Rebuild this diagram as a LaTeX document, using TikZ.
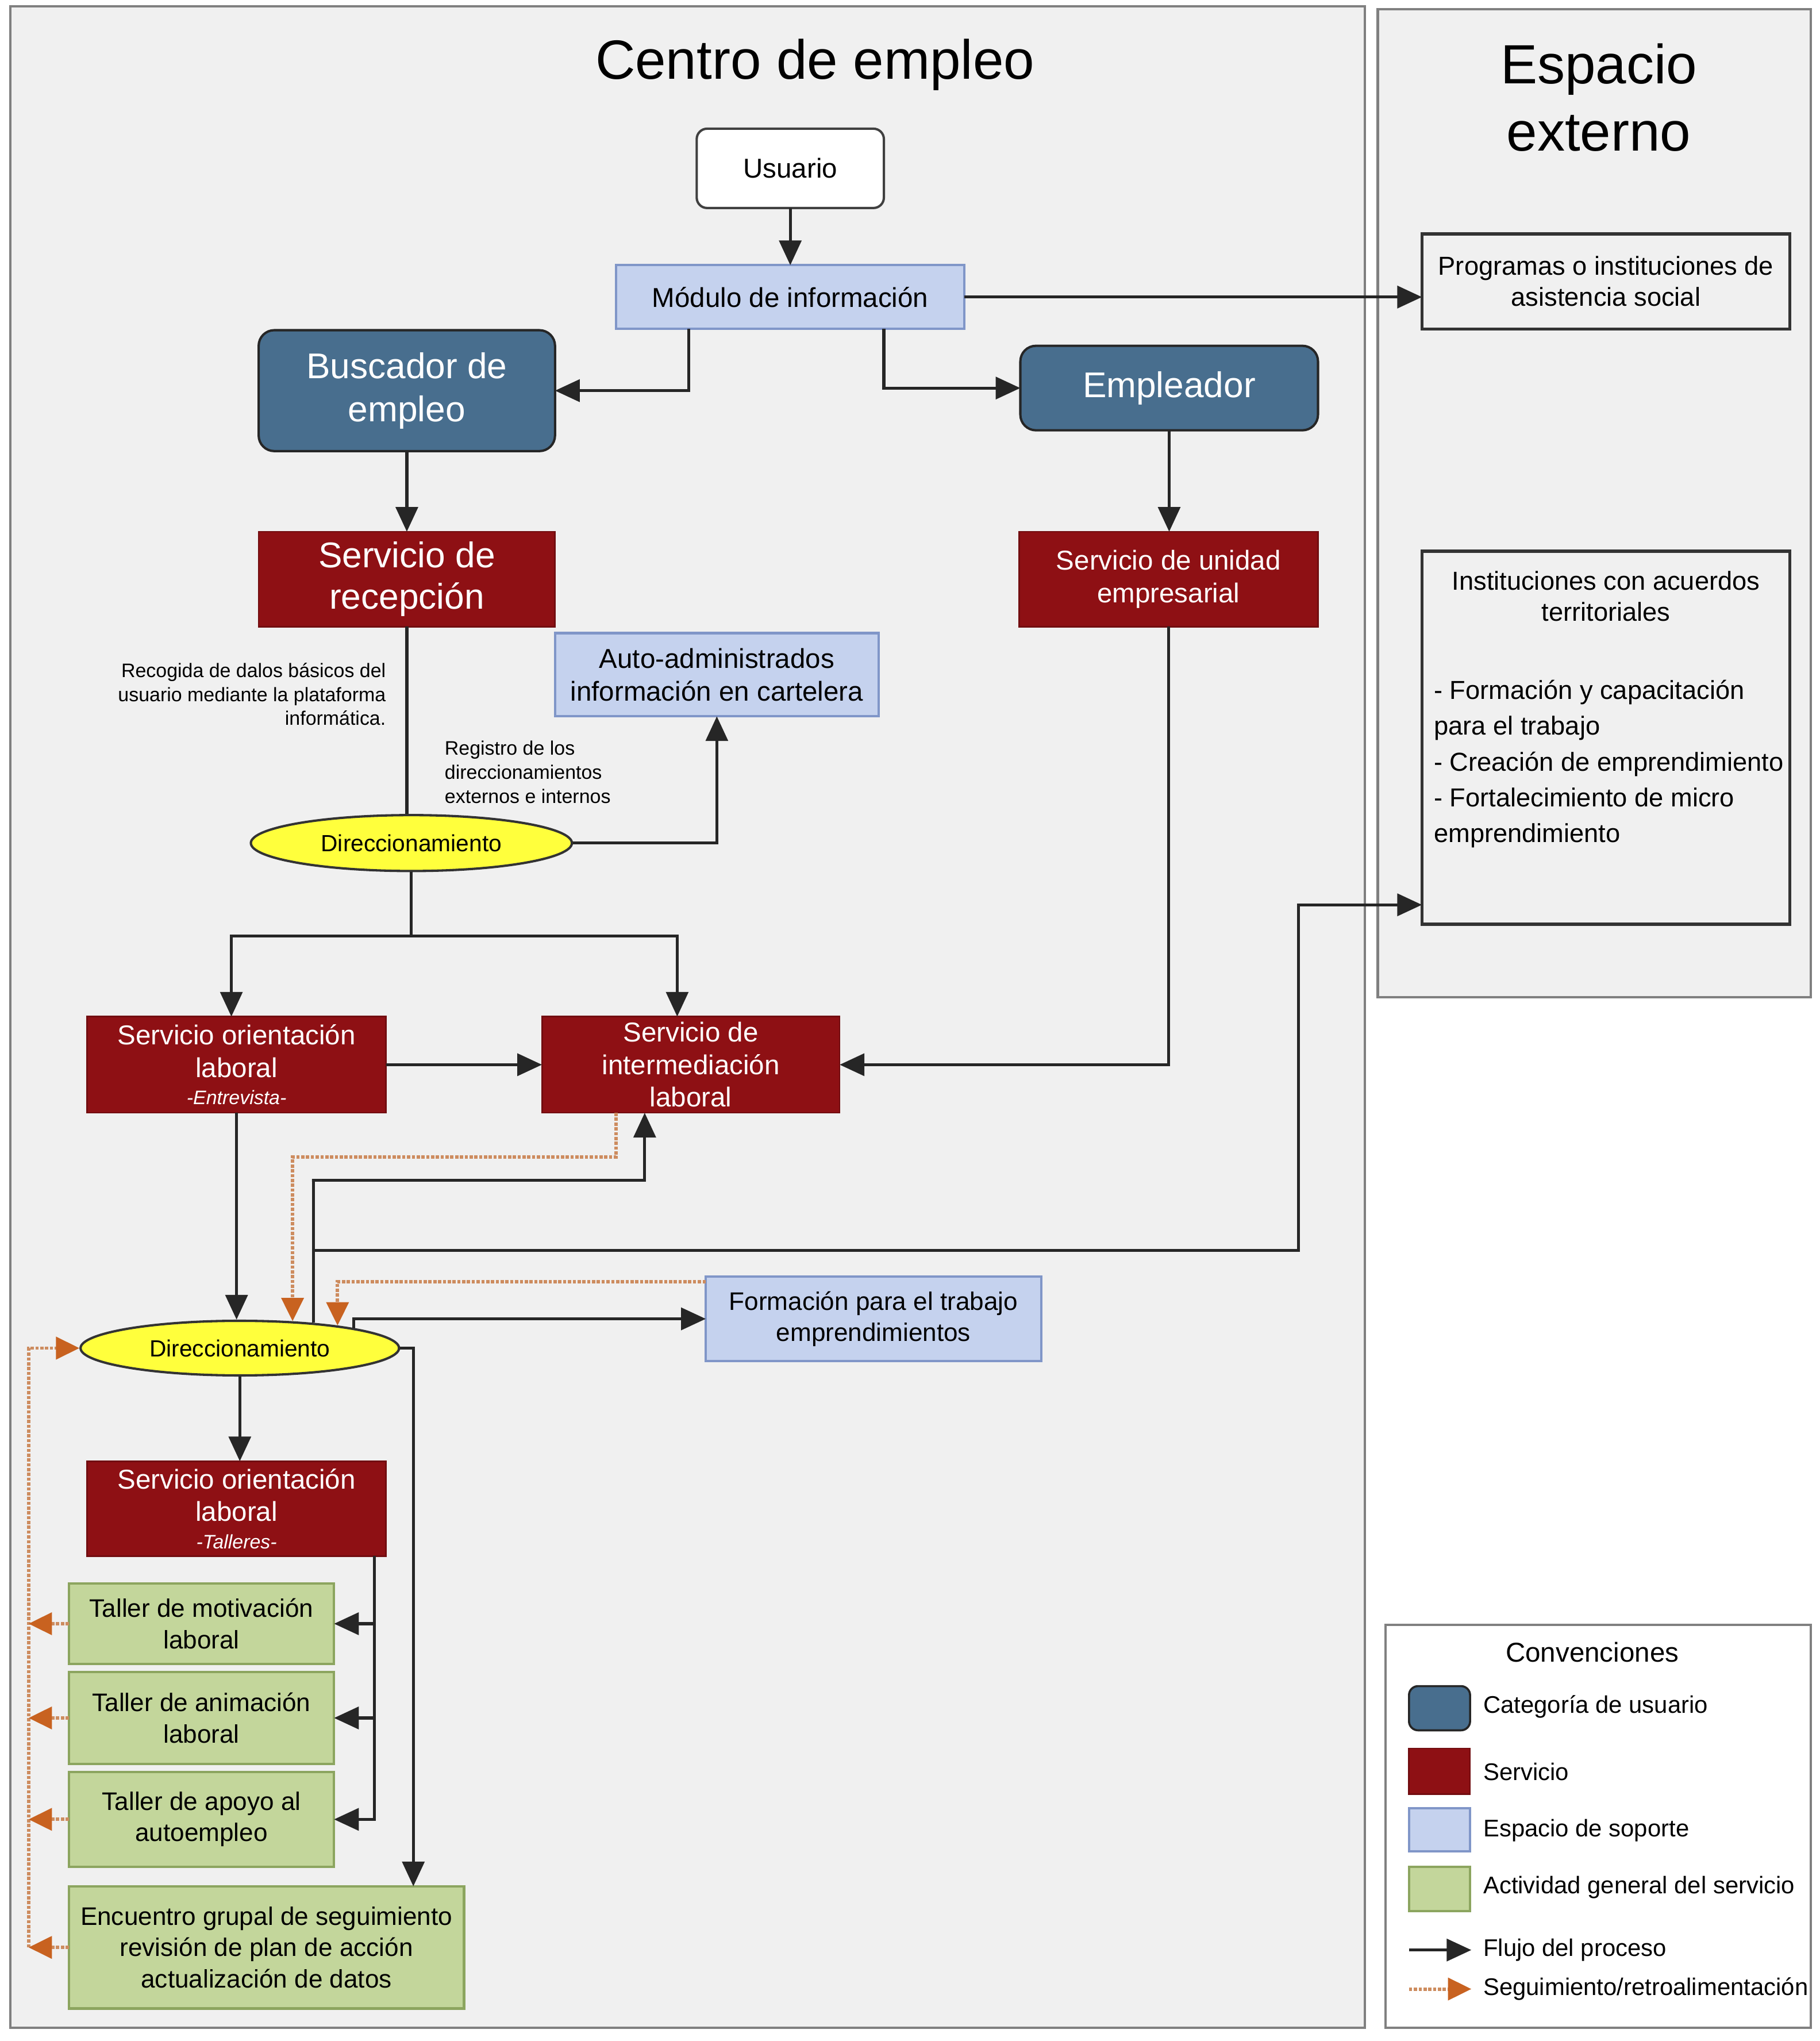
\documentclass[tikz,border=0pt]{standalone}
\usepackage{fontspec}
\setmainfont{Liberation Sans}
\usetikzlibrary{arrows.meta,shapes.geometric,positioning}
\newcommand{\fsz}[2]{\fontsize{#1}{#2}\selectfont}
\definecolor{panelgray}{RGB}{240,240,240}
\definecolor{panelline}{RGB}{128,128,128}
\definecolor{catblue}{RGB}{72,110,142}
\definecolor{servred}{RGB}{142,16,20}
\definecolor{supblue}{RGB}{197,210,238}
\definecolor{supline}{RGB}{128,150,200}
\definecolor{actgreen}{RGB}{195,214,155}
\definecolor{actline}{RGB}{140,165,95}
\definecolor{diryellow}{RGB}{255,255,60}
\definecolor{fbline}{RGB}{205,140,95}
\definecolor{fbtip}{RGB}{200,98,32}

\begin{document}
\begin{tikzpicture}[x=1pt,y=-1pt,
  panel/.style={draw=panelline,line width=1.8pt,fill=panelgray},
  box/.style={inner sep=0pt,outer sep=0pt,align=center},
  userbox/.style={box,draw=black!75,line width=1.8pt,fill=white,rounded corners=8pt,font=\fsz{21}{25}},
  catbox/.style={box,draw=black!85,line width=1.8pt,fill=catblue,rounded corners=12pt,text=white,font=\fsz{27.5}{33}},
  servbox/.style={box,draw=servred!80!black,line width=1.2pt,fill=servred,text=white,font=\fsz{21}{25}},
  supbox/.style={box,draw=supline,line width=1.8pt,fill=supblue,font=\fsz{21}{25}},
  actbox/.style={box,draw=actline,line width=1.8pt,fill=actgreen,font=\fsz{19.5}{24}},
  extbox/.style={box,draw=black!80,line width=2.4pt,fill=panelgray,font=\fsz{20}{24}},
  dirnode/.style={ellipse,inner sep=0pt,draw=black!80,line width=1.8pt,fill=diryellow,font=\fsz{18}{22}},
  note/.style={inner sep=0pt,font=\fsz{15}{18.5}},
  link/.style={line width=2.3pt,draw=black!85},
  flow/.style={link,-{Triangle[length=19pt,width=17pt]}},
  feedback/.style={line width=2.6pt,draw=fbline,dash pattern=on 2.5pt off 1.2pt,-{Triangle[length=18pt,width=17pt,color=fbtip]}},
  ]
\fill[white] (0,0) rectangle (1400,1570);
\useasboundingbox (0,0) rectangle (1400,1570);

% panels
\draw[panel] (8,5) rectangle (1050,1560);
\draw[panel] (1060,7) rectangle (1393,767);
\draw[draw=panelline,line width=1.8pt,fill=white] (1066,1250) rectangle (1393,1560);

\node[font=\fsz{42.5}{52}] (tcentro) at (627,50) {Centro de empleo};
\node[align=center,font=\fsz{42.5}{52}] (texterno) at (1230,75) {Espacio\\externo};

% centro de empleo
\node[userbox,minimum width=144pt,minimum height=61pt] (usuario) at (608,129.5) {Usuario};
\node[supbox,minimum width=268pt,minimum height=49pt] (modulo) at (608,228.5) {Módulo de información};
\node[catbox,minimum width=228pt,minimum height=93pt] (buscador) at (313,300.5) {Buscador de\\empleo};
\node[catbox,minimum width=229pt,minimum height=65pt] (empleador) at (899.5,298.5) {Empleador};
\node[servbox,font=\fsz{27.5}{32},minimum width=228pt,minimum height=73pt] (recepcion) at (313,445.5) {Servicio de\\recepción};
\node[servbox,minimum width=230pt,minimum height=73pt] (unidad) at (899,445.5) {Servicio de unidad\\empresarial};
\node[supbox,minimum width=249pt,minimum height=64pt] (autoadmin) at (551.5,519) {Auto-administrados\\información en cartelera};

\node[note,anchor=east,align=right] (notadatos) at (297,534) {Recogida de dalos básicos del\\usuario mediante la plataforma\\informática.};
\node[note,anchor=west,align=left] (notaregistro) at (342,594) {Registro de los\\direccionamientos\\externos e internos};

\node[dirnode,minimum width=247pt,minimum height=43pt] (dir1) at (316.5,648.5) {Direccionamiento};

\node[servbox,minimum width=230pt,minimum height=74pt] (orient1) at (182,819) {Servicio orientación\\laboral\\[-4pt]{\fsz{15}{18}\itshape -Entrevista-}};
\node[servbox,minimum width=229pt,minimum height=74pt] (inter) at (531.5,819) {Servicio de\\intermediación\\laboral};

\node[dirnode,minimum width=245pt,minimum height=42pt] (dir2) at (184.5,1037) {Direccionamiento};
\node[supbox,font=\fsz{19.5}{24},minimum width=258pt,minimum height=65pt] (formacion) at (672,1014.5) {Formación para el trabajo\\emprendimientos};

\node[servbox,minimum width=230pt,minimum height=73pt] (talleres) at (182,1160.5) {Servicio orientación\\laboral\\[-4pt]{\fsz{15}{18}\itshape -Talleres-}};
\node[actbox,minimum width=204pt,minimum height=62pt] (motivacion) at (155,1249) {Taller de motivación\\laboral};
\node[actbox,minimum width=204pt,minimum height=71pt] (animacion) at (155,1321.5) {Taller de animación\\laboral};
\node[actbox,minimum width=204pt,minimum height=73pt] (apoyo) at (155,1399.5) {Taller de apoyo al\\autoempleo};
\node[actbox,minimum width=304pt,minimum height=94pt] (encuentro) at (205,1498) {Encuentro grupal de seguimiento\\revisión de plan de acción\\actualización de datos};

% espacio externo
\node[extbox,minimum width=283pt,minimum height=73pt] (programas) at (1235.5,216.5) {Programas o instituciones de\\asistencia social};
\node[extbox,minimum width=283pt,minimum height=287pt] (inst) at (1235.5,567.5) {};
\node[anchor=north,align=center,inner sep=0pt,font=\fsz{20}{24}] (insttitle) at ([yshift=-15pt]inst.north) {Instituciones con acuerdos\\territoriales};
\node[anchor=north west,align=left,inner sep=0pt,font=\fsz{20}{27.5}] (instlist) at ([xshift=9pt,yshift=-99pt]inst.north west) {- Formación y capacitación\\para el trabajo\\- Creación de emprendimiento\\- Fortalecimiento de micro\\emprendimiento};

% flujo del proceso
\draw[flow] (usuario) -- (modulo);
\draw[flow] (modulo.east) -- (modulo.east -| programas.west);
\draw[flow] ([xshift=-78pt]modulo.south) |- (buscador.east);
\draw[flow] ([xshift=72pt]modulo.south) |- (empleador.west);
\draw[flow] (buscador) -- (recepcion);
\draw[flow] (empleador.south) -- (empleador.south |- unidad.north);
\draw[link] (recepcion.south) -- (recepcion.south |- dir1.north);
\draw[flow] (dir1.east) -| (autoadmin.south);

\coordinate (split1) at (316.5,720);
\draw[link] (dir1.south) -- (split1);
\draw[flow] (split1) -| ([xshift=-4pt]orient1.north);
\draw[flow] (split1) -| ([xshift=-10.5pt]inter.north);
\draw[flow] (orient1) -- (inter);
\draw[flow] (unidad.south) |- (inter.east);
\draw[flow] (orient1.south) -- (orient1.south |- dir2.north);

\coordinate (jointA) at (240,908);
\coordinate (jointB) at (240,962);
\coordinate (jointC) at (999,696);
\draw[flow] (dir2.19) |- (jointA) -| ([xshift=-35.5pt]inter.south);
\draw[flow] (jointB) -| (jointC) -- (jointC -| inst.west);
\draw[flow] (dir2.10) |- (formacion.west);
\draw[flow] (dir2.east) -| ([xshift=113pt]encuentro.north);
\draw[flow] (dir2.south) -- (dir2.south |- talleres.north);

\coordinate (tbus) at (288,1197);
\draw[flow] (tbus) |- (apoyo.east);
\draw[flow] (tbus |- motivacion.east) -- (motivacion.east);
\draw[flow] (tbus |- animacion.east) -- (animacion.east);

% seguimiento
\draw[feedback] ([xshift=-57.5pt]inter.south) -- ++(0,34) -| (dir2.27);
\draw[feedback] ([yshift=-4pt]formacion.north west) -| (dir2.13);
\coordinate (fbleft) at (22,1037);
\draw[feedback] (encuentro.west -| fbleft) -- (fbleft) -- (dir2.west);
\foreach \b in {motivacion,animacion,apoyo,encuentro}
  \draw[feedback] (\b.west) -- (\b.west -| fbleft);

% convenciones
\node[font=\fsz{21}{25}] (lgtitle) at (1225,1271) {Convenciones};
\node[catbox,line width=1.6pt,rounded corners=7pt,minimum width=47pt,minimum height=34pt] (lgcat) at (1107.5,1314) {};
\node[servbox,minimum width=47pt,minimum height=35pt] (lgserv) at (1107.5,1362.5) {};
\node[supbox,minimum width=47pt,minimum height=33pt] (lgsup) at (1107.5,1407.5) {};
\node[actbox,minimum width=47pt,minimum height=34pt] (lgact) at (1107.5,1453) {};
\coordinate (lgflowA) at (1084,1500);
\coordinate (lgflowB) at (1132,1500);
\coordinate (lgfbA) at (1084,1530);
\coordinate (lgfbB) at (1132,1530);
\draw[flow] (lgflowA) -- (lgflowB);
\draw[feedback] (lgfbA) -- (lgfbB);
\foreach \y/\t in {1313/{Categoría de usuario},1363/{Servicio},1408/{Espacio de soporte},1452/{Actividad general del servicio},1500/{Flujo del proceso},1530/{Seguimiento/retroalimentación}}
  \node[anchor=west,inner sep=0pt,font=\fsz{18.5}{22}] at (1141,\y) {\t};

\end{tikzpicture}
\end{document}
